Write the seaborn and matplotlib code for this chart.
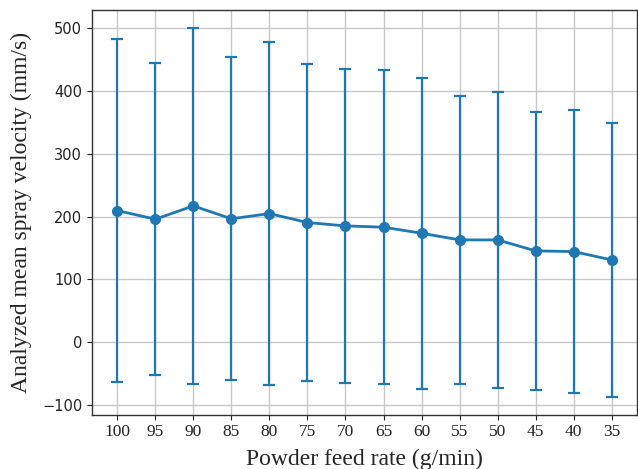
import numpy as np
import pandas as pd
import matplotlib
matplotlib.use("Agg")
import matplotlib.pyplot as plt
import seaborn as sns

feed_rates = ["100", "95", "90", "85", "80", "75", "70", "65", "60", "55", "50", "45", "40", "35"]
mean_velocity = [209.6, 195.8, 217.0, 196.5, 204.8, 190.5, 185.2, 183.1, 173.5, 162.9, 162.9, 145.4, 144.3, 131.0]
std_velocity = [273.5, 248.5, 283.0, 257.0, 272.5, 252.0, 250.0, 249.5, 247.5, 229.5, 236.0, 221.0, 225.5, 218.0]

sns.set_style("ticks")
plt.rcParams["font.family"] = ["DejaVu Sans"]

df = pd.DataFrame({"feed": feed_rates, "mean": mean_velocity, "std": std_velocity})

fig, ax = plt.subplots(figsize=(6.38, 4.69), dpi=100)
fig.subplots_adjust(left=92/638, right=637/638, top=1 - 10.5/469, bottom=1 - 414.5/469)

color = "#1f77b4"
ax.errorbar(range(len(df)), df["mean"], yerr=df["std"], fmt="none", ecolor=color,
            elinewidth=1.6, capsize=4.5, capthick=1.6, zorder=2)
sns.lineplot(x=np.arange(len(df)), y=df["mean"], ax=ax, color=color, linewidth=2,
             marker="o", markersize=8, markeredgewidth=0, zorder=3)

ax.set_xticks(range(len(df)))
ax.set_xticklabels(feed_rates, family="Liberation Serif", fontsize=12.5)
ax.set_xlim(-0.665, len(df) - 1 + 0.665)
ax.set_ylim(-115, 528)
ax.set_yticks([-100, 0, 100, 200, 300, 400, 500])
ax.grid(True, color="#c8c8c8", linewidth=1)
ax.set_axisbelow(True)
for s in ax.spines.values():
    s.set_color("#333333")
    s.set_linewidth(1)
ax.tick_params(axis="y", labelsize=10.5, colors="#222222")
ax.tick_params(axis="x", colors="#222222")

ax.set_xlabel("Powder feed rate (g/min)", fontsize=17, family="Liberation Serif", labelpad=6)
ax.set_ylabel("Analyzed mean spray velocity (mm/s)", fontsize=17, family="Liberation Serif", labelpad=7)

fig.savefig("out.png", dpi=100)
